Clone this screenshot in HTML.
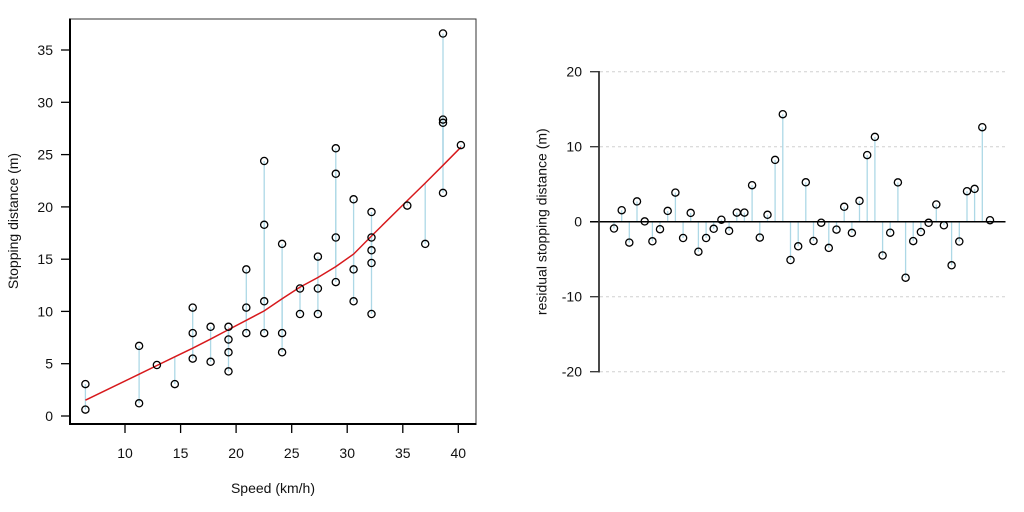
<!DOCTYPE html>
<html><head><meta charset="utf-8"><style>
html,body{margin:0;padding:0;background:#fff;}
svg{display:block;}
text{font-family:"Liberation Sans",Arial,sans-serif;fill:#111;}
</style></head><body>
<svg width="1024" height="512" viewBox="0 0 1024 512" xmlns="http://www.w3.org/2000/svg">
<!-- LEFT PANEL -->
<g stroke="#add8e6" stroke-width="1.3">
<line x1="85.4" y1="409.6" x2="85.4" y2="400.2"/><line x1="85.4" y1="384.1" x2="85.4" y2="400.2"/>
<line x1="139.1" y1="403.3" x2="139.1" y2="374.2"/><line x1="139.1" y1="345.9" x2="139.1" y2="374.2"/>
<line x1="156.9" y1="365.0" x2="156.9" y2="365.5"/>
<line x1="174.8" y1="384.1" x2="174.8" y2="356.8"/>
<line x1="192.7" y1="358.6" x2="192.7" y2="348.2"/><line x1="192.7" y1="333.1" x2="192.7" y2="348.2"/><line x1="192.7" y1="307.6" x2="192.7" y2="348.2"/><line x1="192.7" y1="358.6" x2="192.7" y2="348.2"/>
<line x1="210.6" y1="361.8" x2="210.6" y2="339.1"/><line x1="210.6" y1="326.8" x2="210.6" y2="339.1"/>
<line x1="228.5" y1="371.4" x2="228.5" y2="329.6"/><line x1="228.5" y1="352.3" x2="228.5" y2="329.6"/><line x1="228.5" y1="339.5" x2="228.5" y2="329.6"/><line x1="228.5" y1="326.8" x2="228.5" y2="329.6"/>
<line x1="246.3" y1="333.1" x2="246.3" y2="320.3"/><line x1="246.3" y1="307.6" x2="246.3" y2="320.3"/><line x1="246.3" y1="269.4" x2="246.3" y2="320.3"/>
<line x1="264.2" y1="333.1" x2="264.2" y2="310.9"/><line x1="264.2" y1="301.3" x2="264.2" y2="310.9"/><line x1="264.2" y1="224.8" x2="264.2" y2="310.9"/><line x1="264.2" y1="161.0" x2="264.2" y2="310.9"/>
<line x1="282.1" y1="352.3" x2="282.1" y2="298.8"/><line x1="282.1" y1="333.1" x2="282.1" y2="298.8"/><line x1="282.1" y1="243.9" x2="282.1" y2="298.8"/>
<line x1="300.0" y1="314.0" x2="300.0" y2="287.1"/><line x1="300.0" y1="288.5" x2="300.0" y2="287.1"/>
<line x1="317.9" y1="314.0" x2="317.9" y2="277.5"/><line x1="317.9" y1="256.6" x2="317.9" y2="277.5"/>
<line x1="335.8" y1="282.1" x2="335.8" y2="266.6"/><line x1="335.8" y1="237.5" x2="335.8" y2="266.6"/><line x1="335.8" y1="173.8" x2="335.8" y2="266.6"/><line x1="335.8" y1="148.3" x2="335.8" y2="266.6"/>
<line x1="353.6" y1="301.3" x2="353.6" y2="254.1"/><line x1="353.6" y1="269.4" x2="353.6" y2="254.1"/><line x1="353.6" y1="199.3" x2="353.6" y2="254.1"/>
<line x1="371.5" y1="314.0" x2="371.5" y2="236.0"/><line x1="371.5" y1="263.0" x2="371.5" y2="236.0"/><line x1="371.5" y1="250.3" x2="371.5" y2="236.0"/><line x1="371.5" y1="237.5" x2="371.5" y2="236.0"/><line x1="371.5" y1="212.0" x2="371.5" y2="236.0"/>
<line x1="407.3" y1="205.6" x2="407.3" y2="200.6"/>
<line x1="425.2" y1="243.9" x2="425.2" y2="183.1"/>
<line x1="443.0" y1="192.9" x2="443.0" y2="165.3"/><line x1="443.0" y1="122.8" x2="443.0" y2="165.3"/><line x1="443.0" y1="119.6" x2="443.0" y2="165.3"/><line x1="443.0" y1="33.5" x2="443.0" y2="165.3"/>
<line x1="460.9" y1="145.1" x2="460.9" y2="147.2"/>
</g>
<polyline fill="none" stroke="#d7191c" stroke-width="1.5" points="85.4,400.2 139.1,374.2 156.9,365.5 174.8,356.8 192.7,348.2 210.6,339.1 228.5,329.6 246.3,320.3 264.2,310.9 282.1,298.8 300.0,287.1 317.9,277.5 335.8,266.6 353.6,254.1 371.5,236.0 407.3,200.6 425.2,183.1 443.0,165.3 460.9,147.2"/>
<g fill="none" stroke="#000" stroke-width="1.3">
<circle cx="85.4" cy="409.6" r="3.6"/><circle cx="85.4" cy="384.1" r="3.6"/>
<circle cx="139.1" cy="403.3" r="3.6"/><circle cx="139.1" cy="345.9" r="3.6"/>
<circle cx="156.9" cy="365.0" r="3.6"/>
<circle cx="174.8" cy="384.1" r="3.6"/>
<circle cx="192.7" cy="358.6" r="3.6"/><circle cx="192.7" cy="333.1" r="3.6"/><circle cx="192.7" cy="307.6" r="3.6"/>
<circle cx="210.6" cy="361.8" r="3.6"/><circle cx="210.6" cy="326.8" r="3.6"/>
<circle cx="228.5" cy="371.4" r="3.6"/><circle cx="228.5" cy="352.3" r="3.6"/><circle cx="228.5" cy="339.5" r="3.6"/><circle cx="228.5" cy="326.8" r="3.6"/>
<circle cx="246.3" cy="333.1" r="3.6"/><circle cx="246.3" cy="307.6" r="3.6"/><circle cx="246.3" cy="269.4" r="3.6"/>
<circle cx="264.2" cy="333.1" r="3.6"/><circle cx="264.2" cy="301.3" r="3.6"/><circle cx="264.2" cy="224.8" r="3.6"/><circle cx="264.2" cy="161.0" r="3.6"/>
<circle cx="282.1" cy="352.3" r="3.6"/><circle cx="282.1" cy="333.1" r="3.6"/><circle cx="282.1" cy="243.9" r="3.6"/>
<circle cx="300.0" cy="314.0" r="3.6"/><circle cx="300.0" cy="288.5" r="3.6"/>
<circle cx="317.9" cy="314.0" r="3.6"/><circle cx="317.9" cy="288.5" r="3.6"/><circle cx="317.9" cy="256.6" r="3.6"/>
<circle cx="335.8" cy="282.1" r="3.6"/><circle cx="335.8" cy="237.5" r="3.6"/><circle cx="335.8" cy="173.8" r="3.6"/><circle cx="335.8" cy="148.3" r="3.6"/>
<circle cx="353.6" cy="301.3" r="3.6"/><circle cx="353.6" cy="269.4" r="3.6"/><circle cx="353.6" cy="199.3" r="3.6"/>
<circle cx="371.5" cy="314.0" r="3.6"/><circle cx="371.5" cy="263.0" r="3.6"/><circle cx="371.5" cy="250.3" r="3.6"/><circle cx="371.5" cy="237.5" r="3.6"/><circle cx="371.5" cy="212.0" r="3.6"/>
<circle cx="407.3" cy="205.6" r="3.6"/>
<circle cx="425.2" cy="243.9" r="3.6"/>
<circle cx="443.0" cy="192.9" r="3.6"/><circle cx="443.0" cy="122.8" r="3.6"/><circle cx="443.0" cy="119.6" r="3.6"/><circle cx="443.0" cy="33.5" r="3.6"/>
<circle cx="460.9" cy="145.1" r="3.6"/>
</g>
<!-- box -->
<rect x="70" y="19" width="406" height="405" fill="none" stroke="#333" stroke-width="1"/>
<line x1="70" y1="18.5" x2="70" y2="425" stroke="#000" stroke-width="2"/>
<line x1="69" y1="424" x2="476.5" y2="424" stroke="#000" stroke-width="2"/>
<!-- ticks -->
<g stroke="#000" stroke-width="1.3">
<line x1="61" y1="416" x2="70" y2="416"/><line x1="61" y1="363.7" x2="70" y2="363.7"/><line x1="61" y1="311.4" x2="70" y2="311.4"/><line x1="61" y1="259.2" x2="70" y2="259.2"/><line x1="61" y1="206.9" x2="70" y2="206.9"/><line x1="61" y1="154.6" x2="70" y2="154.6"/><line x1="61" y1="102.3" x2="70" y2="102.3"/><line x1="61" y1="50" x2="70" y2="50"/>
<line x1="125" y1="424" x2="125" y2="433"/><line x1="180.6" y1="424" x2="180.6" y2="433"/><line x1="236.1" y1="424" x2="236.1" y2="433"/><line x1="291.7" y1="424" x2="291.7" y2="433"/><line x1="347.2" y1="424" x2="347.2" y2="433"/><line x1="402.8" y1="424" x2="402.8" y2="433"/><line x1="458.3" y1="424" x2="458.3" y2="433"/>
</g>
<g font-size="14" text-anchor="end">
<text x="53" y="421">0</text><text x="53" y="368.7">5</text><text x="53" y="316.4">10</text><text x="53" y="264.2">15</text><text x="53" y="211.9">20</text><text x="53" y="159.6">25</text><text x="53" y="107.3">30</text><text x="53" y="55">35</text>
</g>
<g font-size="14" text-anchor="middle">
<text x="125" y="457.8">10</text><text x="180.6" y="457.8">15</text><text x="236.1" y="457.8">20</text><text x="291.7" y="457.8">25</text><text x="347.2" y="457.8">30</text><text x="402.8" y="457.8">35</text><text x="458.3" y="457.8">40</text>
<text x="273" y="493">Speed (km/h)</text>
<text transform="translate(18,221) rotate(-90)">Stopping distance (m)</text>
</g>

<!-- RIGHT PANEL -->
<g stroke="#d0d0d0" stroke-width="1" stroke-dasharray="3,3">
<line x1="600" y1="71.7" x2="1006" y2="71.7"/><line x1="600" y1="146.7" x2="1006" y2="146.7"/><line x1="600" y1="296.7" x2="1006" y2="296.7"/><line x1="600" y1="371.7" x2="1006" y2="371.7"/>
</g>
<g stroke="#add8e6" stroke-width="1.3">
<line x1="614.0" y1="221.7" x2="614.0" y2="228.5"/><line x1="621.7" y1="221.7" x2="621.7" y2="210.2"/><line x1="629.3" y1="221.7" x2="629.3" y2="242.6"/><line x1="637.0" y1="221.7" x2="637.0" y2="201.4"/><line x1="644.7" y1="221.7" x2="644.7" y2="221.4"/>
<line x1="652.4" y1="221.7" x2="652.4" y2="241.3"/><line x1="660.0" y1="221.7" x2="660.0" y2="229.2"/><line x1="667.7" y1="221.7" x2="667.7" y2="210.9"/><line x1="675.4" y1="221.7" x2="675.4" y2="192.6"/><line x1="683.1" y1="221.7" x2="683.1" y2="238.0"/>
<line x1="690.7" y1="221.7" x2="690.7" y2="212.9"/><line x1="698.4" y1="221.7" x2="698.4" y2="251.7"/><line x1="706.1" y1="221.7" x2="706.1" y2="238.0"/><line x1="713.7" y1="221.7" x2="713.7" y2="228.8"/><line x1="721.4" y1="221.7" x2="721.4" y2="219.7"/>
<line x1="729.1" y1="221.7" x2="729.1" y2="230.9"/><line x1="736.8" y1="221.7" x2="736.8" y2="212.6"/><line x1="744.4" y1="221.7" x2="744.4" y2="212.6"/><line x1="752.1" y1="221.7" x2="752.1" y2="185.2"/><line x1="759.8" y1="221.7" x2="759.8" y2="237.6"/>
<line x1="767.5" y1="221.7" x2="767.5" y2="214.8"/><line x1="775.1" y1="221.7" x2="775.1" y2="159.9"/><line x1="782.8" y1="221.7" x2="782.8" y2="114.2"/><line x1="790.5" y1="221.7" x2="790.5" y2="260.0"/><line x1="798.2" y1="221.7" x2="798.2" y2="246.3"/>
<line x1="805.8" y1="221.7" x2="805.8" y2="182.3"/><line x1="813.5" y1="221.7" x2="813.5" y2="241.0"/><line x1="821.2" y1="221.7" x2="821.2" y2="222.7"/><line x1="828.8" y1="221.7" x2="828.8" y2="247.9"/><line x1="836.5" y1="221.7" x2="836.5" y2="229.6"/>
<line x1="844.2" y1="221.7" x2="844.2" y2="206.8"/><line x1="851.9" y1="221.7" x2="851.9" y2="232.9"/><line x1="859.5" y1="221.7" x2="859.5" y2="200.9"/><line x1="867.2" y1="221.7" x2="867.2" y2="155.1"/><line x1="874.9" y1="221.7" x2="874.9" y2="136.9"/>
<line x1="882.6" y1="221.7" x2="882.6" y2="255.5"/><line x1="890.2" y1="221.7" x2="890.2" y2="232.7"/><line x1="897.9" y1="221.7" x2="897.9" y2="182.4"/><line x1="905.6" y1="221.7" x2="905.6" y2="277.7"/><line x1="913.2" y1="221.7" x2="913.2" y2="241.1"/>
<line x1="920.9" y1="221.7" x2="920.9" y2="232.0"/><line x1="928.6" y1="221.7" x2="928.6" y2="222.8"/><line x1="936.3" y1="221.7" x2="936.3" y2="204.5"/><line x1="943.9" y1="221.7" x2="943.9" y2="225.3"/><line x1="951.6" y1="221.7" x2="951.6" y2="265.3"/>
<line x1="959.3" y1="221.7" x2="959.3" y2="241.5"/><line x1="967.0" y1="221.7" x2="967.0" y2="191.2"/><line x1="974.6" y1="221.7" x2="974.6" y2="188.9"/><line x1="982.3" y1="221.7" x2="982.3" y2="127.2"/><line x1="990.0" y1="221.7" x2="990.0" y2="220.2"/>
</g>
<line x1="590" y1="221.7" x2="1005.5" y2="221.7" stroke="#000" stroke-width="1.5"/>
<g fill="none" stroke="#000" stroke-width="1.3">
<circle cx="614.0" cy="228.5" r="3.6"/><circle cx="621.7" cy="210.2" r="3.6"/><circle cx="629.3" cy="242.6" r="3.6"/><circle cx="637.0" cy="201.4" r="3.6"/><circle cx="644.7" cy="221.4" r="3.6"/>
<circle cx="652.4" cy="241.3" r="3.6"/><circle cx="660.0" cy="229.2" r="3.6"/><circle cx="667.7" cy="210.9" r="3.6"/><circle cx="675.4" cy="192.6" r="3.6"/><circle cx="683.1" cy="238.0" r="3.6"/>
<circle cx="690.7" cy="212.9" r="3.6"/><circle cx="698.4" cy="251.7" r="3.6"/><circle cx="706.1" cy="238.0" r="3.6"/><circle cx="713.7" cy="228.8" r="3.6"/><circle cx="721.4" cy="219.7" r="3.6"/>
<circle cx="729.1" cy="230.9" r="3.6"/><circle cx="736.8" cy="212.6" r="3.6"/><circle cx="744.4" cy="212.6" r="3.6"/><circle cx="752.1" cy="185.2" r="3.6"/><circle cx="759.8" cy="237.6" r="3.6"/>
<circle cx="767.5" cy="214.8" r="3.6"/><circle cx="775.1" cy="159.9" r="3.6"/><circle cx="782.8" cy="114.2" r="3.6"/><circle cx="790.5" cy="260.0" r="3.6"/><circle cx="798.2" cy="246.3" r="3.6"/>
<circle cx="805.8" cy="182.3" r="3.6"/><circle cx="813.5" cy="241.0" r="3.6"/><circle cx="821.2" cy="222.7" r="3.6"/><circle cx="828.8" cy="247.9" r="3.6"/><circle cx="836.5" cy="229.6" r="3.6"/>
<circle cx="844.2" cy="206.8" r="3.6"/><circle cx="851.9" cy="232.9" r="3.6"/><circle cx="859.5" cy="200.9" r="3.6"/><circle cx="867.2" cy="155.1" r="3.6"/><circle cx="874.9" cy="136.9" r="3.6"/>
<circle cx="882.6" cy="255.5" r="3.6"/><circle cx="890.2" cy="232.7" r="3.6"/><circle cx="897.9" cy="182.4" r="3.6"/><circle cx="905.6" cy="277.7" r="3.6"/><circle cx="913.2" cy="241.1" r="3.6"/>
<circle cx="920.9" cy="232.0" r="3.6"/><circle cx="928.6" cy="222.8" r="3.6"/><circle cx="936.3" cy="204.5" r="3.6"/><circle cx="943.9" cy="225.3" r="3.6"/><circle cx="951.6" cy="265.3" r="3.6"/>
<circle cx="959.3" cy="241.5" r="3.6"/><circle cx="967.0" cy="191.2" r="3.6"/><circle cx="974.6" cy="188.9" r="3.6"/><circle cx="982.3" cy="127.2" r="3.6"/><circle cx="990.0" cy="220.2" r="3.6"/>
</g>
<line x1="599" y1="71" x2="599" y2="372.5" stroke="#333" stroke-width="1.8"/>
<g stroke="#333" stroke-width="1.3">
<line x1="590" y1="71.7" x2="599" y2="71.7"/><line x1="590" y1="146.7" x2="599" y2="146.7"/><line x1="590" y1="296.7" x2="599" y2="296.7"/><line x1="590" y1="371.7" x2="599" y2="371.7"/>
</g>
<g font-size="14" text-anchor="end">
<text x="582" y="76.7">20</text><text x="582" y="151.7">10</text><text x="582" y="226.7">0</text><text x="582" y="301.7">-10</text><text x="582" y="376.7">-20</text>
</g>
<text font-size="14" text-anchor="middle" transform="translate(546.5,221.7) rotate(-90)">residual stopping distance (m)</text>
</svg>
</body></html>
